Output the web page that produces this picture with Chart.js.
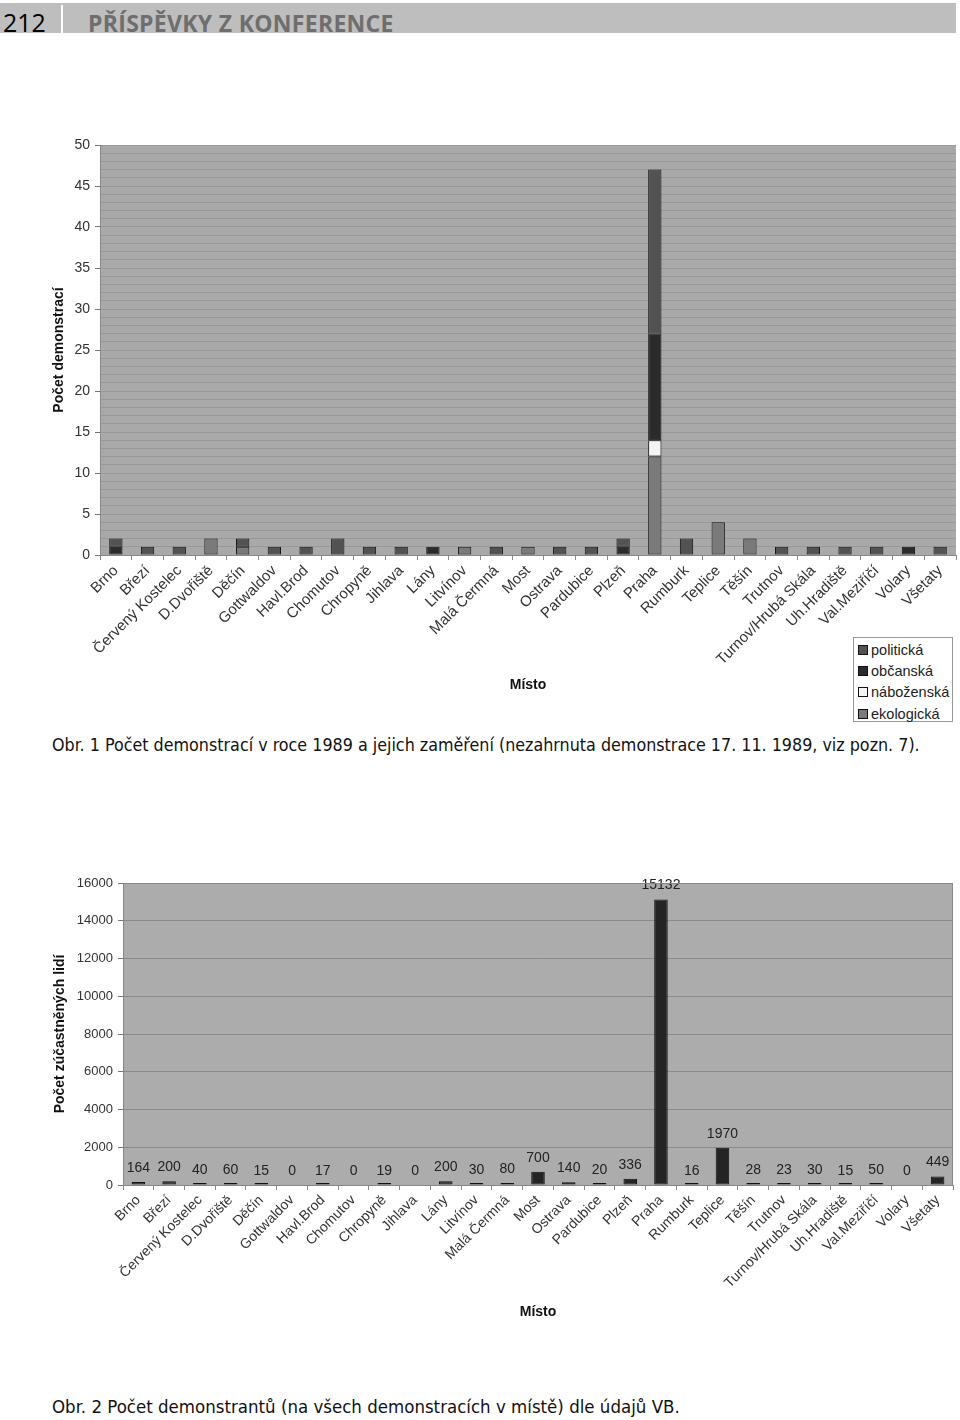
<!DOCTYPE html>
<html>
<head>
<meta charset="utf-8">
<script src="https://cdn.jsdelivr.net/npm/chart.js@4.4.1/dist/chart.umd.min.js"></script>
<style>
body { margin: 0; width: 960px; height: 1420px; background: #fff; position: relative; overflow: hidden; font-family: "Liberation Sans", Arial, sans-serif; }
#band { position: absolute; left: 0; top: 3px; width: 956px; height: 30px; background: #bebebe; }
#pnum { position: absolute; left: 3px; top: 10px; font: 25px/25px "Open Sans", sans-serif; color: #000; }
#sep { position: absolute; left: 61px; top: 5px; width: 2px; height: 28px; background: #fff; }
#ptitle { position: absolute; left: 88px; top: 12px; font: bold 23px/23px "Open Sans", sans-serif; color: #6e6e6e; letter-spacing: 0.3px; white-space: nowrap; }
canvas { position: absolute; left: 0; }
#c1 { top: 120px; }
#c2 { top: 860px; }
.cap { position: absolute; left: 52px; font: 18px/18px "Liberation Sans Narrow", "DejaVu Sans Condensed", "Open Sans", sans-serif; color: #111; white-space: nowrap; transform-origin: left center; }
#cap1 { top: 736px; }
#cap2 { top: 1398px; }
#legend { position: absolute; left: 853px; top: 637px; width: 100px; height: 85px; border: 1px solid #999; background: #fff; padding-top: 2px; box-sizing: border-box; }
#legend .li { height: 21.2px; line-height: 21.2px; font-size: 14.5px; color: #222; white-space: nowrap; padding-left: 4px; }
#legend .sw { display: inline-block; width: 8px; height: 8px; border: 1px solid #111; margin-right: 3px; vertical-align: 0px; }
</style>
</head>
<body>
<div id="band"></div>
<div id="pnum">212</div>
<div id="sep"></div>
<div id="ptitle">PŘÍSPĚVKY Z KONFERENCE</div>

<canvas id="c1" width="960" height="600"></canvas>
<div id="legend"></div>
<div class="cap" id="cap1" data-w="868">Obr. 1 Počet demonstrací v roce 1989 a jejich zaměření (nezahrnuta demonstrace 17. 11. 1989, viz pozn. 7).</div>

<canvas id="c2" width="960" height="480"></canvas>
<div class="cap" id="cap2" data-w="628">Obr. 2 Počet demonstrantů (na všech demonstracích v místě) dle údajů VB.</div>

<script>
// DATA
const mista = ['Brno', 'Březí', 'Červený Kostelec', 'D.Dvořiště', 'Děčín', 'Gottwaldov', 'Havl.Brod',
    'Chomutov', 'Chropyně', 'Jihlava', 'Lány', 'Litvínov', 'Malá Čermná', 'Most', 'Ostrava',
    'Pardubice', 'Plzeň', 'Praha', 'Rumburk', 'Teplice', 'Těšín', 'Trutnov', 'Turnov/Hrubá Skála',
    'Uh.Hradiště', 'Val.Meziříčí', 'Volary', 'Všetaty'];

// Obr. 1 - pocet demonstraci podle zamereni
const politicka  = [1, 1, 1, 0, 1, 1, 1, 2, 1, 1, 0, 0, 1, 0, 1, 1, 1, 20, 2, 0, 0, 1, 1, 1, 1, 0, 1];
const obcanska   = [1, 0, 0, 0, 0, 0, 0, 0, 0, 0, 1, 0, 0, 0, 0, 0, 1, 13, 0, 0, 0, 0, 0, 0, 0, 1, 0];
const nabozenska = [0, 0, 0, 0, 0, 0, 0, 0, 0, 0, 0, 0, 0, 0, 0, 0, 0, 2, 0, 0, 0, 0, 0, 0, 0, 0, 0];
const ekologicka = [0, 0, 0, 2, 1, 0, 0, 0, 0, 0, 0, 1, 0, 1, 0, 0, 0, 12, 0, 4, 2, 0, 0, 0, 0, 0, 0];

// Obr. 2 - pocet demonstrantu
const demonstranti = [164, 200, 40, 60, 15, 0, 17, 0, 19, 0, 200, 30, 80, 700, 140, 20, 336, 15132,
    16, 1970, 28, 23, 30, 15, 50, 0, 449];

Chart.defaults.font.family = '"Liberation Sans", Arial, sans-serif';
Chart.defaults.color = '#333';

// gray plot area + optional frame
const plotBg = {
    id: 'plotBg',
    beforeDraw(chart, args, opts) {
        const { ctx, chartArea: a } = chart;
        ctx.save();
        ctx.fillStyle = opts.color;
        ctx.fillRect(a.left, a.top, a.width, a.height);
        ctx.restore();
    },
    afterDraw(chart, args, opts) {
        if (!opts.frame) return;
        const { ctx, chartArea: a } = chart;
        ctx.save();
        ctx.strokeStyle = opts.frame;
        ctx.lineWidth = 1;
        ctx.beginPath();
        ctx.moveTo(a.left, a.top + 0.5);
        ctx.lineTo(a.right - 0.5, a.top + 0.5);
        ctx.lineTo(a.right - 0.5, a.bottom);
        ctx.stroke();
        ctx.restore();
    }
};

// CHART 1
const series1 = [
    { label: 'ekologická', data: ekologicka, color: '#7a7a7a' },
    { label: 'náboženská', data: nabozenska, color: '#f4f4f4' },
    { label: 'občanská', data: obcanska, color: '#2b2b2b' },
    { label: 'politická', data: politicka, color: '#525252' }
];

new Chart(document.getElementById('c1'), {
    type: 'bar',
    data: {
        labels: mista,
        datasets: series1.map(s => ({
            label: s.label,
            data: s.data.map(v => v || null),
            backgroundColor: s.color,
            borderColor: '#151515',
            borderWidth: 1,
            borderSkipped: false,
            barPercentage: 0.42,
            categoryPercentage: 1
        }))
    },
    options: {
        responsive: false,
        animation: false,
        devicePixelRatio: 1,
        layout: { padding: { top: 25, right: 4, left: 0, bottom: 0 } },
        plugins: {
            legend: { display: false },
            tooltip: { enabled: false },
            plotBg: { color: '#a9a9a9' }
        },
        scales: {
            x: {
                stacked: true,
                afterFit: s => { s.height = 165; },
                grid: { drawOnChartArea: false, tickLength: 5, color: '#888' },
                border: { color: '#888' },
                ticks: { autoSkip: false, maxRotation: 45, minRotation: 45, padding: 2, font: { size: 15 }, color: '#333' },
                title: { display: true, text: 'Místo', font: { size: 14, weight: 'bold' }, color: '#111', padding: { top: 4, bottom: 26 } }
            },
            y: {
                stacked: true,
                min: 0,
                max: 50,
                afterFit: s => { s.width = 100; },
                grid: {
                    color: '#989898',
                    tickLength: 5,
                    tickColor: c => (c.tick && c.tick.value % 5 === 0) ? '#777' : 'rgba(0,0,0,0)'
                },
                border: { color: '#888' },
                ticks: {
                    stepSize: 1,
                    maxTicksLimit: 60,
                    autoSkip: false,
                    padding: 5,
                    font: { size: 14 },
                    color: '#333',
                    callback: v => (v % 5 === 0 ? String(v) : '')
                },
                title: { display: true, text: 'Počet demonstrací', font: { size: 14, weight: 'bold' }, color: '#111', padding: { top: 51, bottom: 0 } }
            }
        }
    },
    plugins: [plotBg]
});

// legend (top-down like the original)
const legend = document.getElementById('legend');
series1.slice().reverse().forEach(s => {
    const li = document.createElement('div');
    li.className = 'li';
    li.innerHTML = '<span class="sw" style="background:' + s.color + '"></span>' + s.label;
    legend.appendChild(li);
});

// CHART 2
const dataLabels = {
    id: 'dataLabels',
    afterDatasetsDraw(chart) {
        const { ctx } = chart;
        const xs = chart.scales.x, ys = chart.scales.y;
        ctx.save();
        ctx.font = '14px "Liberation Sans", Arial, sans-serif';
        ctx.fillStyle = '#222';
        ctx.textAlign = 'center';
        ctx.textBaseline = 'middle';
        demonstranti.forEach((v, i) => {
            ctx.fillText(String(v), xs.getPixelForValue(i), ys.getPixelForValue(v) - 14);
        });
        ctx.restore();
    }
};

new Chart(document.getElementById('c2'), {
    type: 'bar',
    data: {
        labels: mista,
        datasets: [{
            label: 'Počet demonstrantů',
            data: demonstranti.map(v => v || null),
            backgroundColor: '#242424',
            borderColor: '#111',
            borderWidth: 1,
            borderSkipped: false,
            minBarLength: 2,
            barPercentage: 0.44,
            categoryPercentage: 1
        }]
    },
    options: {
        responsive: false,
        animation: false,
        devicePixelRatio: 1,
        layout: { padding: { top: 23, right: 7, left: 0, bottom: 0 } },
        plugins: {
            legend: { display: false },
            tooltip: { enabled: false },
            plotBg: { color: '#acacac', frame: '#888' }
        },
        scales: {
            x: {
                afterFit: s => { s.height = 155; },
                grid: { drawOnChartArea: false, tickLength: 5, color: '#888' },
                border: { color: '#888' },
                ticks: { autoSkip: false, maxRotation: 45, minRotation: 45, padding: 2, font: { size: 14 }, color: '#333' },
                title: { display: true, text: 'Místo', font: { size: 14, weight: 'bold' }, color: '#111', padding: { top: 4, bottom: 19 } }
            },
            y: {
                min: 0,
                max: 16000,
                afterFit: s => { s.width = 123; },
                grid: { color: '#8a8a8a', tickLength: 5, tickColor: '#777' },
                border: { color: '#888' },
                ticks: { stepSize: 2000, padding: 5, font: { size: 13 }, color: '#333', callback: v => String(v) },
                title: { display: true, text: 'Počet zúčastněných lidí', font: { size: 14, weight: 'bold' }, color: '#111', padding: { top: 52, bottom: 0 } }
            }
        }
    },
    plugins: [plotBg, dataLabels]
});

// squeeze captions to the original width
document.querySelectorAll('.cap').forEach(el => {
    const k = Number(el.dataset.w) / el.offsetWidth;
    el.style.transform = 'scaleX(' + k + ')';
});
</script>
</body>
</html>
